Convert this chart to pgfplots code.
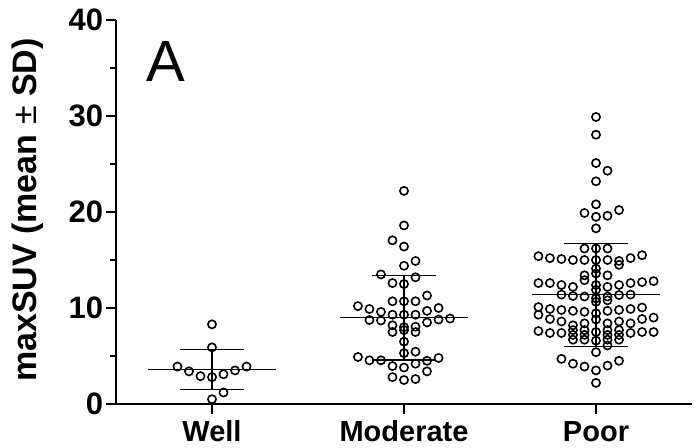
\documentclass[border=0pt]{standalone}
\usepackage{pgfplots}
\pgfplotsset{compat=1.18}
\usepackage{pgfplotstable}
\usepackage{fontspec}
\setmainfont{Liberation Sans}

% c = horizontal slot of the dot within its group, v = maxSUV
\pgfplotstableread{
c v
-3 3.9
-2 3.4
-1 2.9
0 2.8
1 3.1
2 3.5
3 3.9
0 8.3
0 5.9
1 1.2
0 0.5
}\well

\pgfplotstableread{
c v
0 22.2
0 18.6
-1 17.05
0 16.4
1 14.9
0 14.4
-2 13.5
1 13.2
-1 12.6
0 12.5
2 11.3
-1 10.7
0 10.7
1 10.7
-4 10.2
-3 9.9
-2 9.6
2 9.7
3 10.0
-1 9.3
0 9.3
1 9.3
-3 8.75
-2 8.7
2 8.5
3 8.8
4 8.9
-1 8.2
0 8.0
1 8.05
-1 7.5
0 7.7
1 7.5
0 6.5
0 5.3
1 5.45
-4 4.9
-3 4.55
-2 4.55
-1 3.95
0 3.8
1 4.2
2 4.5
3 4.8
2 3.4
-1 2.8
0 2.5
1 2.6
}\moderate

\pgfplotstableread{
c v
0 29.9
0 28.05
0 25.1
1 24.3
0 23.2
0 20.8
-1 19.9
2 20.2
0 19.5
1 19.6
0 18.3
-1 16.2
0 16.2
1 16.2
-5 15.4
-4 15.2
-3 15.1
-2 15.0
-1 15.0
0 15.0
1 15.0
2 14.9
3 15.2
4 15.5
2 14.5
0 14.1
-1 13.4
0 13.6
1 13.4
-1 12.9
-5 12.6
-4 12.6
-3 12.4
-2 12.2
0 12.4
1 12.2
2 12.4
3 12.6
4 12.7
5 12.8
0 11.9
-3 11.4
-2 11.25
-1 11.2
0 11.0
1 11.2
2 11.35
3 11.4
0 10.65
1 10.8
-5 10.1
-4 9.9
-3 9.8
-2 9.7
-1 9.6
0 9.45
1 9.7
2 9.8
3 9.9
4 10.05
-5 9.3
-4 8.85
-3 8.6
-2 8.2
-1 8.4
0 8.8
1 8.4
2 8.6
3 8.4
4 8.85
5 9.0
-5 7.6
-4 7.4
-3 7.4
-2 7.7
-2 7.2
-2 6.7
-1 7.7
-1 7.2
-1 6.7
0 7.5
1 7.7
1 7.2
1 6.7
2 7.7
2 7.2
2 6.7
3 7.4
4 7.5
5 7.5
0 6.6
1 6.1
0 5.4
-3 4.7
-2 4.2
-1 3.9
0 3.5
1 4.0
2 4.5
0 2.2
}\poor

\begin{document}
\begin{tikzpicture}
\begin{axis}[
  scale only axis, width=288pt, height=192pt,
  xmin=0.5, xmax=3.5, ymin=0, ymax=40,
  axis lines*=left,
  axis line style={-, line width=1.4pt},
  xtick={1,2,3}, xticklabels={Well,Moderate,Poor},
  ytick={0,10,20,30,40}, minor ytick={5,15,25,35},
  tick align=outside, major tick length=4.8pt, minor tick length=3pt,
  tick style={line width=1.2pt, black},
  xticklabel style={font=\fontsize{14.5}{14.5}\selectfont\bfseries,
    inner sep=3pt, text height=10.5pt, text depth=0pt},
  yticklabel style={font=\fontsize{15.5}{15.5}\selectfont\bfseries,
    inner sep=1.5pt},
  /pgf/number format/assume math mode=true,
  ylabel={maxSUV (mean {\mdseries ±} SD)},
  ylabel style={at={(axis description cs:-0.153,0.505)}, anchor=center,
    font=\fontsize{17}{17}\selectfont\bfseries},
  clip=false,
  dots/.style={only marks, mark=o, mark size=2.05pt,
    mark options={line width=0.8pt, black}},
  bar/.style={black, line width=0.75pt},
]
\coordinate (O) at (rel axis cs:0,0);

\addplot[dots] table[x expr=1+0.06*\thisrow{c}, y=v] {\well};
\addplot[dots] table[x expr=2+0.06*\thisrow{c}, y=v] {\moderate};
\addplot[dots] table[x expr=3+0.06*\thisrow{c}, y=v] {\poor};

% mean lines
\addplot[bar] coordinates {(0.667,3.6) (1.333,3.6)};
\addplot[bar] coordinates {(1.667,9.0) (2.333,9.0)};
\addplot[bar] coordinates {(2.667,11.4) (3.333,11.4)};
% SD whiskers
\addplot[bar] coordinates {(1,1.5) (1,5.7)};
\addplot[bar] coordinates {(0.833,1.5) (1.167,1.5)};
\addplot[bar] coordinates {(0.833,5.7) (1.167,5.7)};
\addplot[bar] coordinates {(2,4.6) (2,13.4)};
\addplot[bar] coordinates {(1.833,4.6) (2.167,4.6)};
\addplot[bar] coordinates {(1.833,13.4) (2.167,13.4)};
\addplot[bar] coordinates {(3,6.0) (3,16.7)};
\addplot[bar] coordinates {(2.833,6.0) (3.167,6.0)};
\addplot[bar] coordinates {(2.833,16.7) (3.167,16.7)};

\node[font=\fontsize{29}{29}\selectfont, anchor=center] at (axis cs:0.758,35.7) {A};
\end{axis}
\pgfresetboundingbox
\path (O) ++(-58pt,-21.5pt) rectangle ++(350pt,223.5pt);
\end{tikzpicture}
\end{document}
